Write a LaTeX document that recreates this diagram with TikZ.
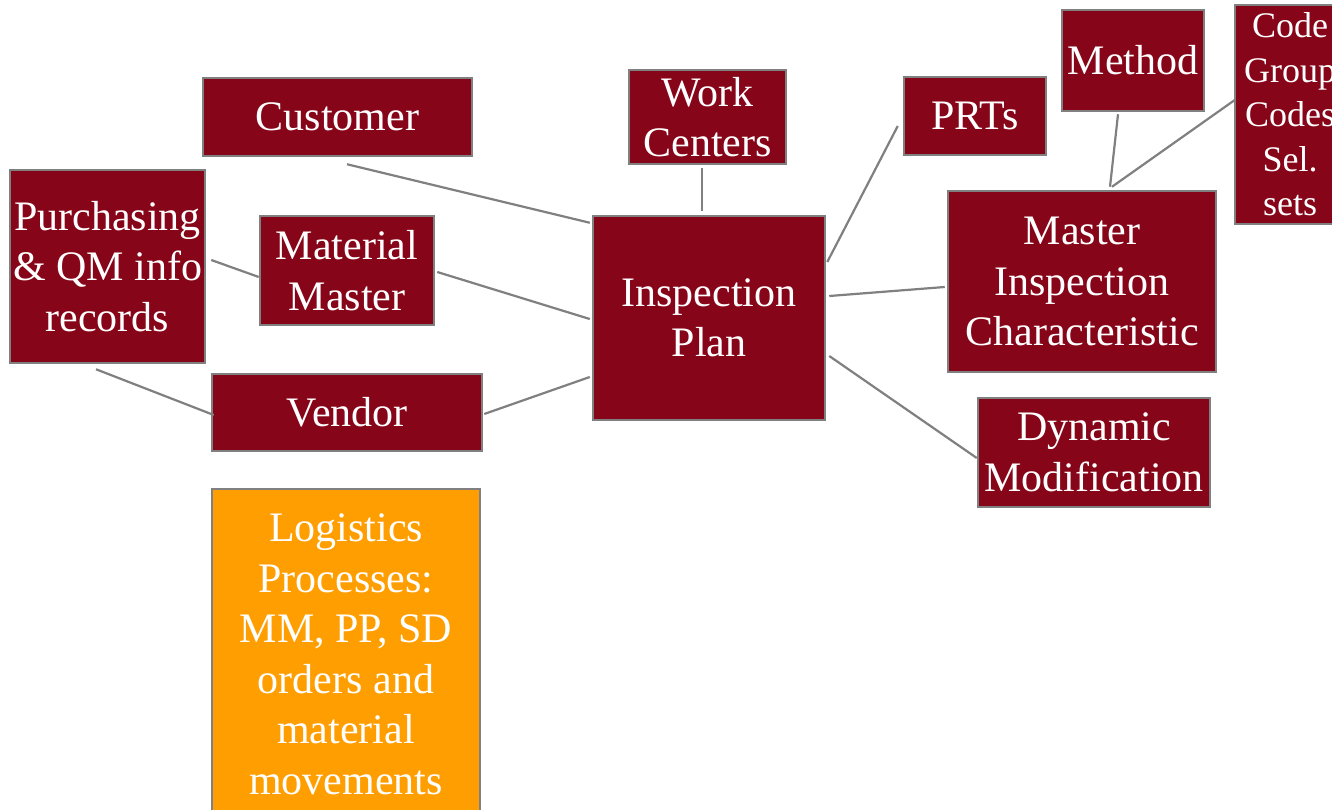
\documentclass[tikz,border=0pt]{standalone}
\usepackage{fontspec}
\setmainfont{Liberation Serif}
\definecolor{boxred}{RGB}{134,5,24}
\definecolor{boxorange}{RGB}{255,158,0}
\definecolor{edgegray}{RGB}{128,128,128}
\tikzset{
  box/.style={draw=edgegray, line width=2.5pt, fill=boxred, text=white, inner sep=0pt,
    align=center, font=\fontsize{42}{50.5}\selectfont},
  smallbox/.style={box, font=\fontsize{36}{44.5}\selectfont},
  obox/.style={box, fill=boxorange},
  link/.style={draw=edgegray, line width=2.2pt}
}
\begin{document}
\begin{tikzpicture}[x=1pt,y=-1pt]
\useasboundingbox (0,0) rectangle (1332,810);
\fill[white] (0,0) rectangle (1332,810);
\clip (0,0) rectangle (1332,810);
\node[box, minimum width=269pt, minimum height=78pt] (cust) at (337.5,117) {Customer};
\node[box, minimum width=157pt, minimum height=94pt] (wc) at (707.5,117) {Work\\Centers};
\node[box, minimum width=142pt, minimum height=78pt] (prt) at (975,116) {PRTs};
\node[box, minimum width=142pt, minimum height=101pt] (meth) at (1133,60.5) {Method};
\node[smallbox, minimum width=110pt, minimum height=219pt] (code) at (1290,114.5) {Code\\Group\\Codes\\Sel.\\sets};
\node[box, minimum width=195pt, minimum height=193pt] (purch) at (107.5,266.5) {Purchasing\\\&~QM info\\records};
\node[box, minimum width=174pt, minimum height=109pt] (mm) at (347,270.5) {Material\\Master};
\node[box, minimum width=232pt, minimum height=204pt] (ip) at (709,318) {Inspection\\Plan};
\node[box, minimum width=268pt, minimum height=181pt] (mic) at (1082,281.5) {Master\\Inspection\\Characteristic};
\node[box, minimum width=270pt, minimum height=77pt] (vend) at (347,412.5) {Vendor};
\node[box, minimum width=232pt, minimum height=109pt] (dyn) at (1094,452.5) {Dynamic\\Modification};
\node[obox, minimum width=268pt, minimum height=331pt] (log) at (346,654.5) {Logistics\\Processes:\\MM, PP, SD\\orders and\\material\\movements};

\draw[link] ([shift={(9.5,7)}]cust.south) -- ([shift={(-2,8)}]ip.north west);
\draw[link] ([shift={(-5.5,3)}]wc.south) -- ([shift={(-7,-4)}]ip.north);
\draw[link] ([shift={(2,1.5)}]mm.east) -- ([shift={(-2,1)}]ip.west);
\draw[link] ([shift={(5,-6.5)}]purch.east) -- ([shift={(0,6.5)}]mm.west);
\draw[link] ([shift={(-11.5,5)}]purch.south) -- ([shift={(3,2.5)}]vend.west);
\draw[link] ([shift={(1,1.5)}]vend.east) -- ([shift={(-2,59)}]ip.west);
\draw[link] ([shift={(1,-56)}]ip.east) -- ([shift={(-5,10)}]prt.west);
\draw[link] ([shift={(3,-22)}]ip.east) -- ([shift={(-2,5.5)}]mic.west);
\draw[link] ([shift={(3,38)}]ip.east) -- ([shift={(0,5.5)}]dyn.west);
\draw[link] ([shift={(28,-3)}]mic.north) -- ([shift={(-15,2)}]meth.south);
\draw[link] ([shift={(30,-3)}]mic.north) -- ([shift={(1,-14.5)}]code.west);
\end{tikzpicture}
\end{document}
